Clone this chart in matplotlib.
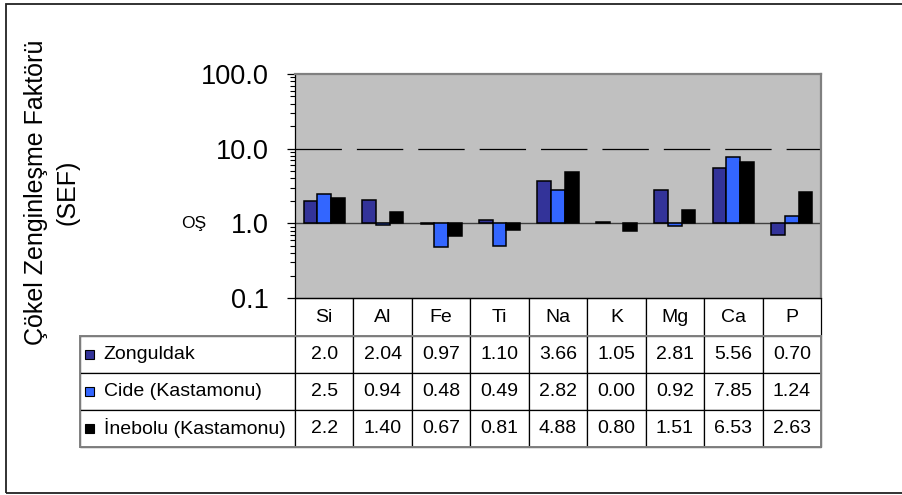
import numpy as np
import matplotlib
matplotlib.use("Agg")
import matplotlib.pyplot as plt
from matplotlib.table import Table
from matplotlib.patches import Rectangle
from matplotlib.ticker import FixedLocator, LogLocator, NullFormatter

plt.rcParams['font.family'] = ['Liberation Sans', 'DejaVu Sans']
plt.rcParams['lines.scale_dashes'] = False

# Elements and sediment enrichment factors per station
elements = ["Si", "Al", "Fe", "Ti", "Na", "K", "Mg", "Ca", "P"]
stations = ["Zonguldak", "Cide (Kastamonu)", "İnebolu (Kastamonu)"]
zonguldak = [2.0, 2.04, 0.97, 1.10, 3.66, 1.05, 2.81, 5.56, 0.70]
cide = [2.5, 0.94, 0.48, 0.49, 2.82, 0.00, 0.92, 7.85, 1.24]
inebolu = [2.2, 1.40, 0.67, 0.81, 4.88, 0.80, 1.51, 6.53, 2.63]
cell_text = [
    ["2.0", "2.04", "0.97", "1.10", "3.66", "1.05", "2.81", "5.56", "0.70"],
    ["2.5", "0.94", "0.48", "0.49", "2.82", "0.00", "0.92", "7.85", "1.24"],
    ["2.2", "1.40", "0.67", "0.81", "4.88", "0.80", "1.51", "6.53", "2.63"],
]
y_ticks = [0.1, 1.0, 10.0, 100.0]
y_tick_labels = ["0.1", "1.0", "10.0", "100.0"]
colors = ["#333399", "#3366FF", "#000000"]

W, H = 903, 495
fig = plt.figure(figsize=(W / 100, H / 100), dpi=100)
fig.patch.set_facecolor("white")

# outer frame
fig.patches.append(Rectangle((6 / W, 2 / H), 1.2, (493 - 4) / H, transform=fig.transFigure,
                             fill=False, edgecolor="#222222", lw=1.3, zorder=0))

ax = fig.add_axes([295 / W, (H - 298) / H, 526 / W, 224 / H])
ax.set_facecolor("#C0C0C0")
ax.set_yscale("log")
ax.set_ylim(0.1, 100)
ax.set_xlim(-0.5, len(elements) - 0.5)

x = np.arange(len(elements))
bw = 0.234
for k, vals in enumerate([zonguldak, cide, inebolu]):
    v = np.array(vals, dtype=float)
    m = v > 0
    ax.bar(x[m] + (k - 1) * bw, v[m] - 1, bottom=1, width=bw, color=colors[k],
           edgecolor="black", linewidth=1.1, zorder=3)

ax.axhline(1, color="#404040", lw=1.0, zorder=2)
ax.axhline(10, color="black", lw=0.9, linestyle=(0, (33.4, 10.8)), zorder=2)

ax.set_xticks([])
ax.yaxis.set_major_locator(FixedLocator(y_ticks))
ax.set_yticklabels(y_tick_labels, fontsize=19.5)
ax.yaxis.set_minor_locator(LogLocator(base=10, subs=np.arange(2, 10)))
ax.yaxis.set_minor_formatter(NullFormatter())
ax.tick_params(axis="y", which="major", direction="out", length=6, width=0.9, pad=13)
ax.tick_params(axis="y", which="minor", direction="out", length=3.5, width=0.8)

for s in ["top", "right"]:
    ax.spines[s].set_color("#808080")
    ax.spines[s].set_linewidth(1.6)
ax.spines["left"].set_color("black")
ax.spines["left"].set_linewidth(0.9)
ax.spines["bottom"].set_color("black")
ax.spines["bottom"].set_linewidth(0.9)

ax.text(-0.193, 1.0, "OŞ", transform=ax.get_yaxis_transform(), fontsize=12.5,
        ha="center", va="center")

fig.text(52 / W, (H - 192) / H, "Çökel Zenginleşme Faktörü\n(SEF)", rotation=90,
         fontsize=18, ha="center", va="center", multialignment="center", linespacing=1.4)

# data table below the plot
hdr_h = 38 / 224
row_h = 37 / 224
col_w = 1 / len(elements)
lab_w = 215 / 526
tot_h = hdr_h + 3 * row_h
tbl = Table(ax, bbox=[0, -tot_h, 1, tot_h])
for j, e in enumerate(elements):
    tbl.add_cell(0, j, width=col_w, height=hdr_h, text=e, loc="center", facecolor="white")
for i, name in enumerate(stations):
    c = tbl.add_cell(i + 1, -1, width=lab_w, height=row_h, text=name, loc="left", facecolor="white")
    c.PAD = 0.11
    for j in range(len(elements)):
        tbl.add_cell(i + 1, j, width=col_w, height=row_h, text=cell_text[i][j], loc="center",
                     facecolor="white")
tbl.auto_set_font_size(False)
tbl.set_fontsize(14)
for cell in tbl.get_celld().values():
    cell.set_linewidth(0.9)
    cell.set_edgecolor("black")
ax.add_table(tbl)

# legend keys in the row label cells
sq = 9
for i in range(3):
    yc = -hdr_h - (i + 0.5) * row_h
    ax.add_patch(Rectangle((-(295 - 85) / 526, yc - sq / 2 / 224), sq / 526, sq / 224,
                           transform=ax.transAxes, facecolor=colors[i], edgecolor="black",
                           lw=0.8, clip_on=False, zorder=5))

# grey outline around the data block
ax.add_patch(Rectangle((-lab_w, -tot_h), 1 + lab_w, 3 * row_h, transform=ax.transAxes,
                       fill=False, edgecolor="#808080", lw=1.4, clip_on=False, zorder=6))

fig.savefig("out.png", dpi=100)
